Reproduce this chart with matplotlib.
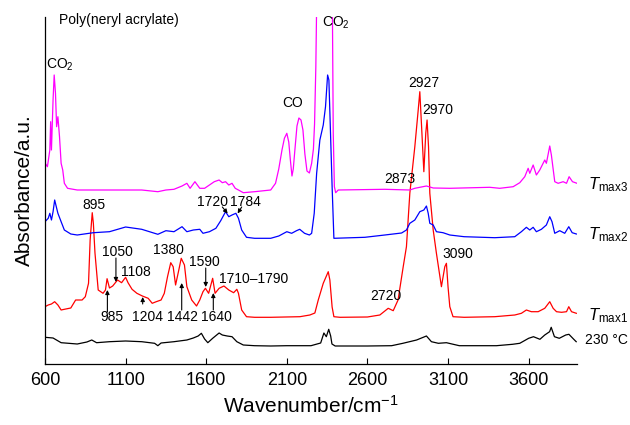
import matplotlib
matplotlib.use("Agg")
import matplotlib.pyplot as plt

plt.rcParams['font.family'] = ['Liberation Sans', 'DejaVu Sans']
plt.rcParams['mathtext.fontset'] = 'custom'
plt.rcParams['mathtext.rm'] = 'Liberation Sans'
plt.rcParams['mathtext.it'] = 'Liberation Sans:italic'

# Stacked FTIR spectra of evolved gases (absorbance, a.u., offset per trace)
wn_230 = [600, 650, 700, 800, 860, 890, 920, 1000, 1100, 1200, 1280, 1300, 1320, 1400,
          1480, 1520, 1550, 1570, 1590, 1610, 1640, 1680, 1700, 1730, 1760, 1790, 1830,
          1900, 2000, 2100, 2250, 2310, 2330, 2345, 2360, 2372, 2380, 2400, 2600, 2750,
          2820, 2905, 2966, 2997, 3040, 3090, 3170, 3400, 3500, 3545, 3600, 3630, 3670,
          3700, 3730, 3740, 3760, 3790, 3830, 3850, 3880, 3895]
ab_230 = [26.7, 26, 21.3, 20, 22, 24, 21.3, 22.3, 23, 22.3, 20.7, 18.3, 21, 22.3,
          24, 26, 28, 30.7, 25, 21.3, 25.7, 31, 29, 28, 27.3, 22.3, 19,
          18.3, 18, 18.3, 18.3, 21, 31, 27.3, 34.7, 28, 20, 18, 18, 18.3,
          20.7, 24, 28, 22.3, 20.7, 21.3, 18.3, 18.3, 19.7, 20.7, 25.7, 27.3, 24.7,
          29, 32.3, 36.7, 27.3, 25.7, 29, 29.7, 24.7, 22.3]

wn_t1 = [600, 620, 640, 660, 680, 700, 720, 760, 790, 830, 850, 870, 880, 893, 900,
         910, 930, 960, 975, 985, 1000, 1020, 1050, 1075, 1100, 1115, 1140, 1170, 1204,
         1240, 1265, 1290, 1320, 1340, 1360, 1380, 1395, 1410, 1430, 1445, 1465, 1480,
         1510, 1540, 1560, 1580, 1595, 1615, 1640, 1655, 1680, 1710, 1740, 1770, 1790,
         1800, 1820, 1850, 1900, 2000, 2181, 2243, 2274, 2295, 2326, 2357, 2367, 2381,
         2392, 2430, 2600, 2677, 2729, 2760, 2790, 2822, 2842, 2863, 2894, 2915, 2925,
         2936, 2950, 2962, 2970, 2979, 2987, 3008, 3028, 3059, 3080, 3090, 3100, 3111,
         3131, 3200, 3390, 3514, 3555, 3586, 3617, 3659, 3700, 3731, 3752, 3773, 3804,
         3835, 3849, 3866, 3896]
ab_t1 = [57.3, 59, 60, 62.3, 59, 54, 54.7, 56, 64, 64, 67.3, 80.7, 124, 151.3, 140.7,
         111, 74, 70.7, 74, 85.3, 76, 78, 84, 81.3, 86.7, 81.3, 74.7, 70.7, 68,
         65.7, 60.7, 62.3, 64, 70.7, 87.3, 101.3, 97.3, 79, 94, 105.7, 99, 77.3,
         64, 58, 64, 72.3, 75.7, 70.7, 85.7, 70.7, 75.7, 78, 74, 71.3, 74.7,
         70.7, 54, 47.3, 46.7, 46.7, 47.3, 49, 51, 64, 80.7, 92.3, 84, 57,
         47.3, 46.7, 47, 49, 55.7, 53.3, 64, 97.3, 117.3, 170.7, 217.3, 254, 272.3,
         237.3, 192.3, 231, 244, 217.3, 170.7, 134, 110.7, 77.3, 97.3, 100.7, 77.3, 57.3,
         47.3, 46.7, 47.3, 49, 50.7, 54, 52.3, 52.3, 55.7, 62.3, 55.7, 52.3, 51.7,
         52.3, 57.3, 52.3, 50.7]

wn_t2 = [600, 620, 630, 640, 650, 660, 670, 680, 700, 720, 760, 800, 900, 1000, 1100,
         1200, 1300, 1350, 1400, 1450, 1480, 1520, 1560, 1580, 1620, 1660, 1690, 1720,
         1740, 1760, 1784, 1800, 1820, 1850, 1900, 2000, 2050, 2100, 2130, 2160, 2180,
         2210, 2240, 2254, 2270, 2285, 2305, 2326, 2340, 2353, 2361, 2371, 2381, 2392,
         2584, 2708, 2812, 2842, 2863, 2894, 2925, 2950, 2966, 2977, 2987, 3008, 3028,
         3069, 3111, 3200, 3390, 3514, 3555, 3586, 3607, 3628, 3648, 3679, 3710, 3731,
         3745, 3762, 3793, 3824, 3849, 3870, 3896]
ab_t2 = [142.3, 145.7, 150.7, 144, 152.3, 164, 157.3, 150.7, 142.3, 134, 130, 129, 131.3,
         132.3, 137, 134.7, 129.7, 133.3, 132.3, 137.3, 132.3, 134, 134.7, 130.7, 132.3,
         135.7, 143.3, 152.3, 147.3, 149, 150.7, 145.7, 134, 126.7, 125.7, 125.7, 128,
         132.3, 130.7, 133.3, 134.7, 130.7, 129, 130.7, 150.7, 190.7, 224, 239, 257.3,
         289, 284, 231, 177.3, 125.7, 126.7, 129, 131, 134, 140.7, 144, 152.3, 154, 158,
         150.7, 140.7, 139, 132.3, 131.3, 129, 127.3, 126.3, 127.3, 132.3, 136.7, 134,
         136.7, 132.3, 134.7, 139, 147.3, 142.3, 130.7, 133.3, 130.7, 137.3, 131.3, 130]

wn_t3 = [600, 615, 630, 635, 640, 650, 657, 665, 672, 680, 690, 700, 710, 720, 740, 800,
         1000, 1200, 1300, 1350, 1400, 1450, 1480, 1500, 1530, 1560, 1590, 1620, 1650,
         1680, 1700, 1720, 1740, 1760, 1780, 1800, 1830, 1900, 2000, 2030, 2050, 2070,
         2085, 2100, 2112, 2122, 2132, 2140, 2150, 2163, 2175, 2188, 2200, 2212, 2225,
         2240, 2254, 2265, 2272, 2280, 2290, 2380,
         2388, 2395, 2403, 2419, 2708, 2863, 2894, 2925, 2966, 3008, 3111, 3359, 3421,
         3504, 3545, 3576, 3597, 3607, 3628, 3648, 3669, 3700, 3710, 3731, 3741, 3762,
         3783, 3814, 3835, 3851, 3872, 3900]
ab_t3 = [201, 197.3, 214, 242.3, 214, 264, 289, 270.7, 237.3, 247.3, 227.3, 200.7, 194,
         180.7, 175.7, 174, 174, 174, 172.3, 174, 174.7, 178, 180.7, 175.7, 182.3, 175.7,
         175.7, 179, 182.3, 184, 181.3, 182.3, 179, 180.7, 175.7, 174, 171.3, 172.3, 174,
         180.7, 195, 214, 225.7, 230.7, 222, 204, 188, 195, 214, 238, 246, 244, 234, 210,
         193, 191, 200.7, 215, 240, 297.3, 420, 420,
         230.7, 177.3, 171.3, 174, 174.7, 174, 175.7, 176.7, 178,
         176, 175.7, 176.7, 175.7, 177.3, 181.3, 187.3, 195.7, 190.7, 199, 189, 194, 204,
         200.7, 218, 209, 182.3, 180.7, 182.3, 180.7, 187.3, 182.3, 180.7]

tick_vals = [600, 1100, 1600, 2100, 2600, 3100, 3600]

fig = plt.figure(figsize=(6.3, 4.25), dpi=100)
ax = fig.add_axes([45 / 630, 61 / 425, 532 / 630, 347 / 425])

lw = 0.9
ax.plot(wn_230, ab_230, color='black', lw=lw)
ax.plot(wn_t1, ab_t1, color='#ff0000', lw=lw)
ax.plot(wn_t2, ab_t2, color='#0000ff', lw=lw)
ax.plot(wn_t3, ab_t3, color='#ff00ff', lw=lw)

ax.set_xlim(600, 3900)
ax.set_ylim(0, 347)
ax.set_xticks(tick_vals)
ax.set_xticklabels([str(v) for v in tick_vals])
ax.set_yticks([])
ax.tick_params(axis='x', direction='in', length=4, width=0.8, labelsize=13, pad=6)
for side in ('top', 'right'):
    ax.spines[side].set_visible(False)
ax.spines['left'].set_linewidth(0.9)
ax.spines['bottom'].set_linewidth(0.9)

ax.set_xlabel('Wavenumber/cm$^{\u22121}$', fontsize=15, labelpad=4)
ax.set_ylabel('Absorbance/a.u.', fontsize=15, labelpad=8)

fs = 10
ax.text(687, 344, 'Poly(neryl acrylate)', fontsize=fs, ha='left', va='center')
ax.text(693, 299, 'CO$_2$', fontsize=fs, ha='center', va='center')
ax.text(2138, 261, 'CO', fontsize=fs, ha='center', va='center')
ax.text(2318, 341, 'CO$_2$', fontsize=fs, ha='left', va='center')

peak_labels = [
    (2948, 281, '2927'), (3038, 254, '2970'), (2799, 185, '2873'),
    (1636, 162, '1720'), (1844, 162, '1784'), (901, 159, '895'),
    (1047, 112, '1050'), (1165, 92, '1108'), (1013, 47, '985'),
    (1233, 47, '1204'), (1363, 114, '1380'), (1456, 47, '1442'),
    (1586, 102, '1590'), (1664, 47, '1640'), (1893, 85, '1710\u20131790'),
    (2715, 68, '2720'), (3162, 110, '3090'),
]
for x, y, s in peak_labels:
    ax.text(x, y, s, fontsize=fs, ha='center', va='center')

arrows = [
    ((1040, 106), (1040, 82)), ((987, 52), (987, 74)), ((1206, 60), (1206, 67)),
    ((1448, 54), (1448, 81)), ((1597, 96), (1597, 77)), ((1644, 54), (1644, 71)),
    ((1700, 157), (1733, 150.5)), ((1820, 157), (1795, 150.5)),
]
for start, end in arrows:
    ax.annotate('', xy=end, xytext=start,
                arrowprops=dict(arrowstyle='-|>', color='black', lw=0.8,
                                mutation_scale=6, shrinkA=0, shrinkB=0))

lab_x = 3968
ax.text(lab_x, 179, r'$\mathit{T}_{\mathrm{max3}}$', fontsize=12, ha='left', va='center', clip_on=False)
ax.text(lab_x, 129, r'$\mathit{T}_{\mathrm{max2}}$', fontsize=12, ha='left', va='center', clip_on=False)
ax.text(lab_x, 48, r'$\mathit{T}_{\mathrm{max1}}$', fontsize=12, ha='left', va='center', clip_on=False)
ax.text(3950, 24, '230 \u00b0C', fontsize=10, ha='left', va='center', clip_on=False)

fig.savefig('out.png', dpi=100)
